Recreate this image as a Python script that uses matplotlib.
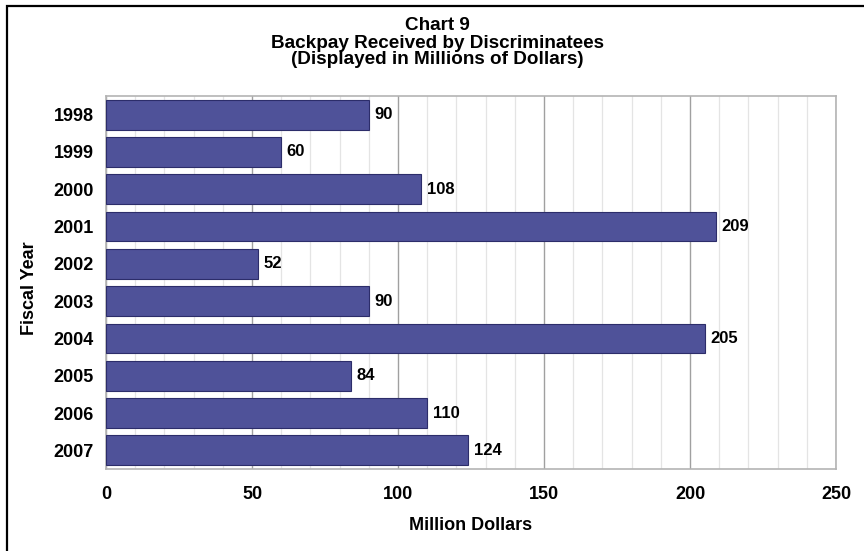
import matplotlib
matplotlib.use("Agg")
import matplotlib.pyplot as plt
from matplotlib.patches import Rectangle

# data
years = ['1998', '1999', '2000', '2001', '2002', '2003', '2004', '2005', '2006', '2007']
backpay = [90, 60, 108, 209, 52, 90, 205, 84, 110, 124]
x_ticks = [0, 50, 100, 150, 200, 250]

plt.rcParams['font.family'] = ['Liberation Sans', 'DejaVu Sans']
plt.rcParams['font.weight'] = 'bold'

fig = plt.figure(figsize=(8.64, 5.51), dpi=100)
ax = fig.add_axes([106 / 864, 1 - 469 / 551, 730 / 864, 373 / 551])

pos = list(range(len(years)))
bars = ax.barh(pos, backpay, height=0.8, color='#4f5299', edgecolor='#2c2d6a', linewidth=0.8, zorder=3)
ax.bar_label(bars, labels=[str(v) for v in backpay], padding=4, fontsize=12, fontweight='bold')

ax.set_xlim(0, 250)
ax.set_ylim(len(years) - 0.5, -0.5)
ax.set_yticks(pos)
ax.set_yticklabels(years, fontsize=13, fontweight='bold')
ax.set_xticks(x_ticks)
ax.set_xticklabels([str(t) for t in x_ticks], fontsize=13, fontweight='bold')
ax.set_xticks(range(0, 251, 10), minor=True)

# grid
ax.grid(True, axis='x', which='minor', color='#e4e4e4', linewidth=0.9, zorder=0)
ax.grid(True, axis='x', which='major', color='#a0a0a0', linewidth=1.0, zorder=1)
ax.tick_params(axis='both', which='both', length=0)
ax.tick_params(axis='x', pad=12)
ax.tick_params(axis='y', pad=9)
for s in ax.spines.values():
    s.set_color('#b4b4b4')
    s.set_linewidth(1.2)

ax.set_xlabel('Million Dollars', fontsize=13, fontweight='bold', labelpad=10)
fig.text(30 / 864, 1 - 288 / 551, 'Fiscal Year', rotation=90, fontsize=13, fontweight='bold',
         ha='center', va='center')

# title lines
title_lines = ['Chart 9', 'Backpay Received by Discriminatees', '(Displayed in Millions of Dollars)']
for k, line in enumerate(title_lines):
    fig.text(437 / 864, 1 - (26 + 17 * k) / 551, line, fontsize=13.6, fontweight='bold',
             ha='center', va='center')

# outer frame (left and top edges visible)
fig.patches.append(Rectangle((7 / 864, -0.1), 1.2, 1 - 6 / 551 + 0.1, transform=fig.transFigure,
                             fill=False, edgecolor='black', linewidth=1.6))

fig.savefig('out.png', dpi=100)
